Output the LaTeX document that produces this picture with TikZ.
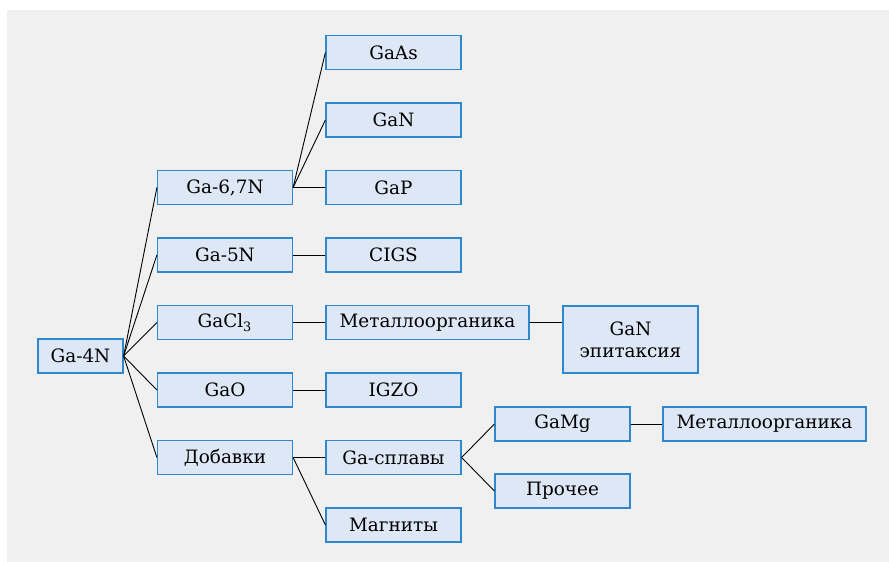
\documentclass[tikz,border=0pt]{standalone}
\usepackage{fontspec}
\setmainfont{DejaVu Serif}
\definecolor{panelgrey}{HTML}{F0F0F0}
\definecolor{boxfill}{HTML}{DEE7F5}
\definecolor{boxline}{HTML}{2F88CC}

\begin{document}
\begin{tikzpicture}[x=0.5pt,y=-0.5pt,
		box/.style={draw=boxline,fill=boxfill,line width=0.6pt,minimum width=67.5pt,minimum height=17pt,inner sep=0pt,font=\fontsize{9.2}{11}\selectfont,align=center},
		widebox/.style={box,minimum width=101.5pt},
		link/.style={black,line width=0.45pt}]
		\useasboundingbox (0,0) rectangle (889,562);
		\fill [panelgrey] (7,10) rectangle (889,562);
		\node [box,minimum width=42.5pt] (ga4) at (80.5,356) {Ga-4N};
		\node [box] (ga67) at (225,187.5) {Ga-6,7N};
		\node [box] (ga5) at (225,255) {Ga-5N};
		\node [box] (gacl) at (225,322.5) {GaCl\textsubscript{3}};
		\node [box] (gao) at (225,390) {GaO};
		\node [box] (dob) at (225,457.5) {Добавки};
		\node [box] (gaas) at (393.5,52.5) {GaAs};
		\node [box] (gan) at (393.5,120) {GaN};
		\node [box] (gap) at (393.5,187.5) {GaP};
		\node [box] (cigs) at (393.5,255) {CIGS};
		\node [widebox] (mo) at (427.5,322.5) {Металлоорганика};
		\node [box] (igzo) at (393.5,390) {IGZO};
		\node [box] (spl) at (393.5,457.5) {Ga-сплавы};
		\node [box] (mag) at (393.5,525) {Магниты};
		\node [box,minimum height=33.5pt] (epi) at (630.5,339.5) {GaN\\эпитаксия};
		\node [box] (gamg) at (562.5,424) {GaMg};
		\node [box] (pro) at (562.5,491) {Прочее};
		\node [widebox] (mo2) at (764.5,424) {Металлоорганика};
		\foreach \c in {ga67,ga5,gacl,gao,dob}
			\draw [link] (ga4.east) -- (\c.west);
		\foreach \c in {gaas,gan,gap}
			\draw [link] (ga67.east) -- (\c.west);
		\draw [link] (ga5.east) -- (cigs.west);
		\draw [link] (gacl.east) -- (mo.west);
		\draw [link] (gao.east) -- (igzo.west);
		\draw [link] (dob.east) -- (spl.west);
		\draw [link] (dob.east) -- (mag.west);
		\draw [link] (mo.east) -- (mo.east -| epi.west);
		\draw [link] (spl.east) -- (gamg.west);
		\draw [link] (spl.east) -- (pro.west);
		\draw [link] (gamg.east) -- (mo2.west);
	\end{tikzpicture}
\end{document}
